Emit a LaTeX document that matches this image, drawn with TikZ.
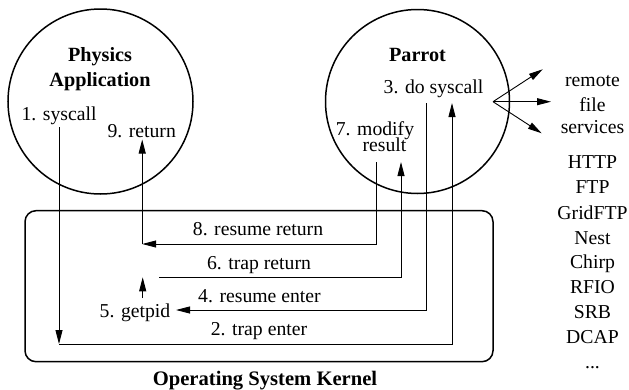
\documentclass[tikz,border=0pt]{standalone}
\usepackage{fontspec}
\setmainfont{Liberation Serif}
\usetikzlibrary{arrows.meta}
\begin{document}
\begin{tikzpicture}[x=1pt,y=-1pt,
  lbl/.style={anchor=base,inner sep=0pt,font=\fontsize{19.7}{23}\selectfont},
  blbl/.style={anchor=base,inner sep=0pt,font=\fontsize{20.2}{23}\selectfont\bfseries},
  flow/.style={line width=0.9pt},
  tip/.style={-{Triangle[length=14pt,width=7pt]}},
  circ/.style={circle,draw,line width=1.5pt,inner sep=0pt}]
\useasboundingbox (0,0) rectangle (629,389);
% shapes
\node[circ,minimum size=185pt] (app) at (100.5,101.5) {};
\node[circ,minimum size=184pt] (parrot) at (417.5,101.5) {};
\node[draw,line width=1.5pt,rounded corners=11pt,minimum width=468pt,minimum height=151pt,inner sep=0pt] (kernel) at (259,286.2) {};
% labels
\node[blbl] (tphys) at (100,61) {Physics};
\node[blbl] (tappl) at (100,86) {Application};
\node[lbl] (tsys) at (59,120) {1. syscall};
\node[lbl] (tret) at (141.7,137.5) {9. return};
\node[blbl] (tparrot) at (417.5,61) {Parrot};
\node[lbl] (tdosys) at (433.5,93) {3. do syscall};
\node[lbl] (tmod) at (375,135.5) {7. modify};
\node[lbl] (tres) at (384.5,151.5) {result};
\node[lbl] (tremote) at (592.5,86) {remote};
\node[lbl] (tfile) at (592.5,111) {file};
\node[lbl] (tserv) at (592.5,133) {services};
\node[lbl] (l1) at (592.5,168) {HTTP};
\node[lbl] (l2) at (592.5,193) {FTP};
\node[lbl] (l3) at (592.5,219) {GridFTP};
\node[lbl] (l4) at (592.5,244) {Nest};
\node[lbl] (l5) at (592.5,268) {Chirp};
\node[lbl] (l6) at (592.5,293) {RFIO};
\node[lbl] (l7) at (592.5,318) {SRB};
\node[lbl] (l8) at (592.5,343) {DCAP};
\node[lbl] (l9) at (592.5,368) {...};
\node[lbl] (t8) at (258,235) {8. resume return};
\node[lbl] (t6) at (259,269) {6. trap return};
\node[lbl] (t4) at (259.5,302.7) {4. resume enter};
\node[lbl] (t2) at (259,335) {2. trap enter};
\node[lbl] (t5) at (135,317.5) {5. getpid};
\node[blbl,font=\fontsize{20.6}{23}\selectfont\bfseries] (tkern) at (265,385) {Operating System Kernel};
% coordinates
\coordinate (a0) at (59,127);
\coordinate (a1) at (59,344);
\coordinate (b1) at (452,344);
\coordinate (b2) at (452,103);
\coordinate (c0) at (426,103);
\coordinate (c1) at (426,310);
\coordinate (c2) at (176,310);
\coordinate (d0) at (142.7,298);
\coordinate (d1) at (142.7,277.3);
\coordinate (e0) at (159.3,277.3);
\coordinate (e1) at (401,277.3);
\coordinate (e2) at (401,162);
\coordinate (f0) at (376.5,162);
\coordinate (f1) at (376.5,244);
\coordinate (f2) at (142.2,244);
\coordinate (g1) at (142.2,139.5);
\coordinate (r0) at (493,101.7);
\coordinate (r1) at (542.7,69.3);
\coordinate (r2) at (551,101.7);
\coordinate (r3) at (541.7,133.3);
% connectors
\draw[flow,tip] (a0) -- (a1);
\draw[flow,tip] (a1) -- (b1) -- (b2);
\draw[flow,tip] (c0) -- (c1) -- (c2);
\draw[flow,tip] (d0) -- (d1);
\draw[flow,tip] (e0) -- (e1) -- (e2);
\draw[flow,tip] (f0) -- (f1) -- (f2);
\draw[flow,tip] (f2) -- (g1);
\draw[flow,tip] (r0) -- (r1);
\draw[flow,tip] (r0) -- (r2);
\draw[flow,tip] (r0) -- (r3);
\end{tikzpicture}
\end{document}
